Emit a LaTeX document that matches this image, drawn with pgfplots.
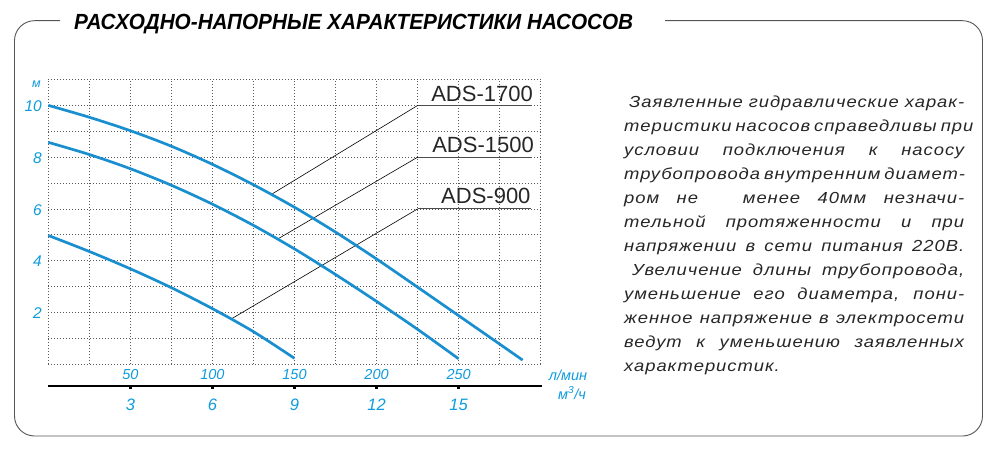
\documentclass[border=0pt]{standalone}
\usepackage{pgfplots}
\pgfplotsset{compat=1.18}
\usepackage{fontspec}
\setmainfont{Liberation Sans}
\newfontfamily\bodyfont[FakeStretch=1.15,LetterSpace=6]{Liberation Sans}

\definecolor{curve}{HTML}{1A8FD0}
\definecolor{lbl}{HTML}{0E9BDC}
\definecolor{framec}{HTML}{555555}
\definecolor{txt}{HTML}{262626}

\newcommand{\jline}[3]{\node[anchor=base west, inner sep=0pt, text=txt,
  font=\bodyfont\itshape\fontsize{16}{16}\selectfont] at (#1pt,#2pt) {#3};}

\begin{document}
\begin{tikzpicture}
\path[use as bounding box] (0,0) rectangle (1000pt,450pt);

% frame with the title set into its top edge
\draw[framec, line width=0.9pt, rounded corners=20pt]
  (60pt,429.3pt) -- (14.5pt,429.3pt) -- (14.5pt,14pt) -- (982.5pt,14pt)
  -- (982.5pt,429.3pt) -- (665pt,429.3pt);
\node[anchor=base west, inner sep=0pt, text=black] at (74pt,420pt)
  {\resizebox{559pt}{15.3pt}{\bfseries\itshape РАСХОДНО-НАПОРНЫЕ ХАРАКТЕРИСТИКИ НАСОСОВ}};

\begin{axis}[
  at={(48.3pt,86pt)}, anchor=south west,
  scale only axis, width=492.4pt, height=284.5pt,
  xmin=0, xmax=300, ymin=0, ymax=11,
  axis line style={draw=none},
  xtick={50,100,...,250}, minor xtick={0,25,...,300},
  ytick={2,4,...,10}, minor ytick={0,1,...,11},
  grid=both,
  major grid style={draw=black!65, line width=0.6pt, dash pattern=on 1pt off 2pt},
  minor grid style={draw=black!65, line width=0.6pt, dash pattern=on 1pt off 2pt},
  major tick length=0pt, minor tick length=0pt,
  /pgf/number format/assume math mode=true,
  ticklabel style={text=lbl, inner sep=0pt},
  xticklabel style={font=\fontsize{14.5}{14.5}\selectfont\itshape, anchor=base, yshift=-15.5pt},
  yticklabel style={font=\fontsize{15.5}{15.5}\selectfont\itshape, anchor=east, xshift=-6.3pt, yshift=-1pt},
  clip=false,
]
  % leader lines to the labels
  \addplot[black, line width=0.6pt] coordinates {(135.7,6.55) (225.1,10)};
  \addplot[black, line width=0.6pt] coordinates {(139.7,4.83) (225.1,8)};
  \addplot[black, line width=0.6pt] coordinates {(111.4,1.74) (225.1,6)};
  \addplot[black!70, line width=1pt] coordinates {(225.1,10) (294.7,10)};
  \addplot[black!70, line width=1pt] coordinates {(225.1,8) (294.7,8)};
  \addplot[black!70, line width=1pt] coordinates {(225.1,6) (293.9,6)};

  % ADS-1700
  \addplot[curve, line width=2.7pt, smooth] coordinates {
    (0,10) (25,9.54) (50,9.02) (75,8.42) (100,7.72) (125,6.93) (150,6.06)
    (175,5.10) (200,4.06) (225,2.97) (250,1.87) (275,0.77) (289,0.15)
  };
  % ADS-1500
  \addplot[curve, line width=2.7pt, smooth] coordinates {
    (0,8.57) (25,8.10) (50,7.55) (75,6.91) (100,6.18) (125,5.36) (150,4.45)
    (175,3.46) (200,2.42) (225,1.34) (250,0.20)
  };
  % ADS-900
  \addplot[curve, line width=2.7pt, smooth] coordinates {
    (0,4.97) (25,4.35) (50,3.68) (75,2.95) (100,2.14) (125,1.25) (150,0.22)
  };

  \node[anchor=base east, inner sep=0pt, text=txt, font=\fontsize{22}{22}\selectfont]
    at (axis cs:295.3,10.15) {ADS-1700};
  \node[anchor=base east, inner sep=0pt, text=txt, font=\fontsize{22}{22}\selectfont]
    at (axis cs:295.9,8.17) {ADS-1500};
  \node[anchor=base east, inner sep=0pt, text=txt, font=\fontsize{22}{22}\selectfont]
    at (axis cs:293.9,6.21) {ADS-900};
\end{axis}

% second scale: cubic metres per hour
\begin{axis}[
  at={(48.3pt,64pt)}, anchor=south west,
  scale only axis, width=493.4pt, height=10pt,
  xmin=0, xmax=300.6, ymin=0, ymax=1,
  axis x line=bottom, axis y line=none,
  axis line style={black, line width=1.3pt, -},
  xtick={50,100,...,250}, xticklabels={3,6,9,12,15},
  tick align=outside, major tick length=3pt,
  tick style={black, line width=2.6pt},
  xticklabel style={font=\fontsize{16.5}{16.5}\selectfont\itshape, text=lbl,
    anchor=base, yshift=-21.5pt, inner sep=0pt},
]
\end{axis}

\node[text=lbl, inner sep=0pt, font=\fontsize{12.5}{12.5}\selectfont\itshape] at (36.5pt,366pt) {м};
\node[text=lbl, inner sep=0pt, font=\fontsize{14.5}{14.5}\selectfont\itshape] at (568pt,75pt) {л/мин};
\node[text=lbl, inner sep=0pt, font=\fontsize{14.5}{14.5}\selectfont\itshape] at (572pt,57pt) {м\textsuperscript{3}/ч};

% note on the right
\jline{629}{342.3}{\makebox[335pt][s]{Заявленные гидравлические харак-}}
\jline{624}{318.3}{\makebox[340pt][s]{теристики насосов справедливы при}}
\jline{624}{294.3}{\makebox[340pt][s]{условии подключения к насосу}}
\jline{624}{270.3}{\makebox[340pt][s]{трубопровода внутренним диамет-}}
\jline{624}{246.3}{\makebox[340pt][s]{ром не \hspace{10pt} менее 40мм незначи-}}
\jline{624}{222.3}{\makebox[340pt][s]{тельной протяженности и при}}
\jline{624}{198.3}{\makebox[340pt][s]{напряжении в сети питания 220В.}}
\jline{632}{174.3}{\makebox[332pt][s]{Увеличение длины трубопровода,}}
\jline{624}{150.3}{\makebox[340pt][s]{уменьшение его диаметра, пони-}}
\jline{624}{126.3}{\makebox[340pt][s]{женное напряжение в электросети}}
\jline{624}{102.3}{\makebox[340pt][s]{ведут к уменьшению заявленных}}
\jline{624}{78.3}{характеристик.}
\end{tikzpicture}
\end{document}
